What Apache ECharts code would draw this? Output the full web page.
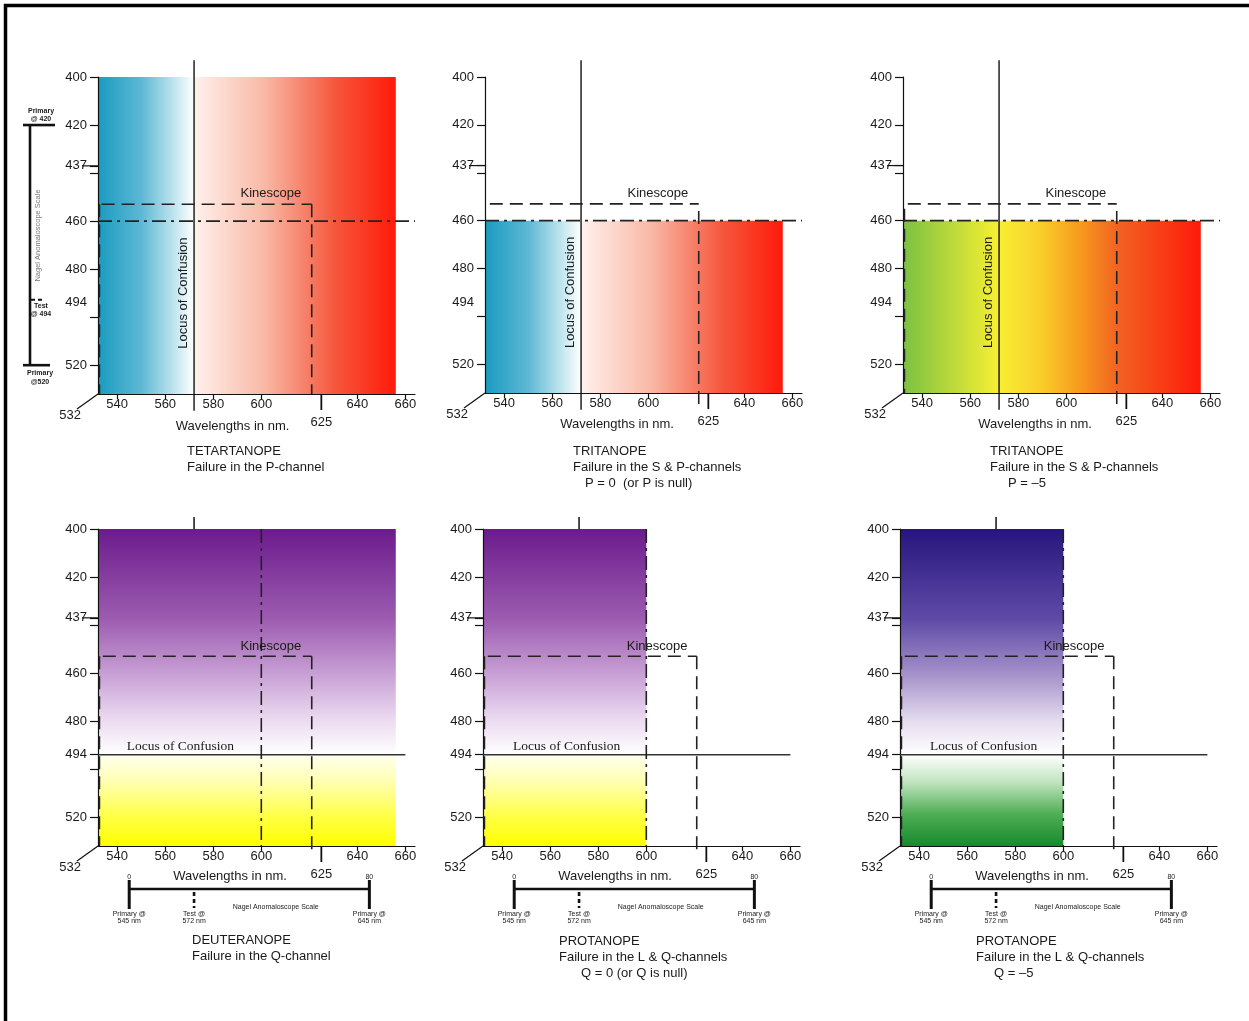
<!DOCTYPE html>
<html>
<head>
<meta charset="utf-8">
<script src="https://cdn.jsdelivr.net/npm/echarts@6/dist/echarts.min.js"></script>
<style>
  html, body { margin: 0; padding: 0; background: #fff; }
  #chart { width: 1249px; height: 1021px; }
</style>
</head>
<body>
<div id="chart"></div>
<script>
// ---- data ----
var panelTitles = ['TETARTANOPE', 'TRITANOPE', 'TRITANOPE', 'DEUTERANOPE', 'PROTANOPE', 'PROTANOPE'];
var panelSubtitles = ['Failure in the P-channel', 'Failure in the S & P-channels', 'Failure in the S & P-channels',
  'Failure in the Q-channel', 'Failure in the L & Q-channels', 'Failure in the L & Q-channels'];
var panelNotes = ['', 'P = 0  (or P is null)', 'P = \u20135', '', 'Q = 0 (or Q is null)', 'Q = \u20135'];

var xMin = 532, xMax = 664;
var yMin = 400, yMax = 532;
var xTickLabels = [540, 560, 580, 600, 640, 660];
var yTickLabels = [400, 420, 437, 460, 480, 494, 520];
var yTicksTop = [400, 420, 437, 440, 460, 480, 500, 520];
var yTicksBottom = [400, 420, 437, 440, 460, 480, 494, 500, 520];
var kinescopeTick = 625;

// Nagel anomaloscope scales
var nagelVertical = [420, 494, 520];          // primary, test, primary (nm)
var nagelHorizontal = [545, 572, 645];        // primary, test, primary (nm)
var nagelUnits = [0, 80];

// colour bands: panel, x0, x1, y0, y1, direction, gradient name
var bands = [
  [0, 532, 572, 400, 532, 'h', 'cyanWhite'],
  [0, 572, 656, 400, 532, 'h', 'whiteRed'],
  [1, 532, 572, 460, 532, 'h', 'cyanWhite'],
  [1, 572, 656, 460, 532, 'h', 'whiteRed'],
  [2, 532, 656, 460, 532, 'h', 'greenRed'],
  [3, 532, 656, 400, 494, 'v', 'purpleWhite'],
  [3, 532, 656, 494, 532, 'v', 'whiteYellow'],
  [4, 532, 600, 400, 494, 'v', 'purpleWhite'],
  [4, 532, 600, 494, 532, 'v', 'whiteYellow'],
  [5, 532, 600, 400, 494, 'v', 'navyWhite'],
  [5, 532, 600, 494, 532, 'v', 'whiteGreen']
];

// line segments: panel, x0, y0, x1, y1, kind
var segments = [
  [0, 572, 393, 572, 539, 'locus'],
  [0, 533.5, 453, 621, 453, 'kinescope'],
  [0, 621, 453, 621, 532, 'kinescope'],
  [0, 532.6, 453, 532.6, 532, 'kinescope'],
  [0, 532, 460, 664, 460, 'reference'],

  [1, 572, 393, 572, 539, 'locus'],
  [1, 534, 453, 621, 453, 'kinescope'],
  [1, 621, 456, 621, 537, 'kinescope'],
  [1, 532, 460, 664, 460, 'reference'],

  [2, 572, 393, 572, 539, 'locus'],
  [2, 534, 453, 621, 453, 'kinescope'],
  [2, 621, 456, 621, 537, 'kinescope'],
  [2, 532.6, 455, 532.6, 532, 'kinescope'],
  [2, 532, 460, 664, 460, 'reference'],

  [3, 532, 494, 660, 494, 'locusH'],
  [3, 600, 400, 600, 532, 'reference'],
  [3, 534, 453, 621, 453, 'kinescope'],
  [3, 621, 453, 621, 534, 'kinescope'],
  [3, 532.6, 453, 532.6, 532, 'kinescope'],
  [3, 572, 395, 572, 400, 'stub'],

  [4, 532, 494, 660, 494, 'locusH'],
  [4, 600, 400, 600, 532, 'reference'],
  [4, 534, 453, 621, 453, 'kinescope'],
  [4, 621, 453, 621, 535, 'kinescope'],
  [4, 532.6, 453, 532.6, 532, 'kinescope'],
  [4, 572, 395, 572, 400, 'stub'],

  [5, 532, 494, 660, 494, 'locusH'],
  [5, 600, 400, 600, 532, 'reference'],
  [5, 534, 453, 621, 453, 'kinescope'],
  [5, 621, 453, 621, 535, 'kinescope'],
  [5, 532.6, 453, 532.6, 532, 'kinescope'],
  [5, 572, 395, 572, 400, 'stub']
];

// text notes in axis units: panel, x, y, text, kind
var notes = [
  [0, 604, 448.5, 'Kinescope', 'plain'],
  [0, 567.5, 490, 'Locus of Confusion', 'vertical'],
  [0, 588, 545.3, 'Wavelengths in nm.', 'plain'],
  [1, 604, 448.5, 'Kinescope', 'plain'],
  [1, 567.5, 490, 'Locus of Confusion', 'vertical'],
  [1, 587, 545.3, 'Wavelengths in nm.', 'plain'],
  [2, 604, 448.5, 'Kinescope', 'plain'],
  [2, 567.5, 490, 'Locus of Confusion', 'vertical'],
  [2, 587, 545.3, 'Wavelengths in nm.', 'plain'],
  [3, 604, 449, 'Kinescope', 'plain'],
  [3, 544, 490.6, 'Locus of Confusion', 'serif'],
  [3, 587, 544.5, 'Wavelengths in nm.', 'plain'],
  [4, 604.5, 449, 'Kinescope', 'plain'],
  [4, 544.5, 490.6, 'Locus of Confusion', 'serif'],
  [4, 587, 544.5, 'Wavelengths in nm.', 'plain'],
  [5, 604.5, 449, 'Kinescope', 'plain'],
  [5, 544.5, 490.6, 'Locus of Confusion', 'serif'],
  [5, 587, 544.5, 'Wavelengths in nm.', 'plain']
];

// ---- styles & layout ----
var FONT = '"Liberation Sans", Arial, Helvetica, sans-serif';
var SERIF = '"Liberation Serif", "Times New Roman", serif';
var INK = '#1a1a1a';

var gradients = {
  cyanWhite: [[0, '#1a9bc1'], [0.45, '#5db8d4'], [0.8, '#c2e6ef'], [1, '#ffffff']],
  whiteRed: [[0, '#fff1ec'], [0.35, '#f9b8a6'], [0.7, '#f5573c'], [1, '#ff1a0a']],
  greenRed: [[0, '#7bc143'], [0.24, '#d8e436'], [0.32, '#f7ef33'], [0.46, '#f9cf2a'],
    [0.6, '#f7981e'], [0.72, '#f26322'], [1, '#ff1a0a']],
  purpleWhite: [[0, '#6b1b8c'], [0.4, '#9d5cb0'], [0.65, '#c9a2d6'], [0.85, '#ecdcf1'], [1, '#ffffff']],
  whiteYellow: [[0, '#fffff0'], [0.3, '#ffffb0'], [0.7, '#ffff40'], [1, '#ffff00']],
  navyWhite: [[0, '#27157e'], [0.4, '#5f4ba6'], [0.65, '#a793cb'], [0.85, '#e5dcef'], [1, '#ffffff']],
  whiteGreen: [[0, '#ffffff'], [0.3, '#c0e4be'], [0.65, '#4fae55'], [1, '#178a2b']]
};

var segmentStyles = {
  locus: { stroke: '#111', lineWidth: 1.4 },
  locusH: { stroke: '#333', lineWidth: 1.3 },
  kinescope: { stroke: '#222', lineWidth: 1.6, lineDash: [13, 7] },
  reference: { stroke: '#222', lineWidth: 1.6, lineDash: [14, 5, 3, 5] },
  stub: { stroke: '#111', lineWidth: 1.5 }
};

var grids = [
  { left: 98, top: 77, width: 317, height: 317 },
  { left: 485, top: 77, width: 317, height: 316 },
  { left: 903, top: 77, width: 317, height: 316 },
  { left: 98, top: 529, width: 317, height: 317 },
  { left: 483, top: 529, width: 317, height: 317 },
  { left: 900, top: 529, width: 317, height: 317 }
];
// title position relative to axis origin, and indent of the third line
var titleAt = [[89, 57], [88, 58], [87, 58], [94, 94], [76, 95], [76, 95]];
var noteIndent = [0, 12, 18, 0, 22, 18];

function seg(x1, y1, x2, y2, style) {
  return { type: 'line', shape: { x1: x1, y1: y1, x2: x2, y2: y2 }, style: style };
}
function txt(x, y, s, size, align, extra) {
  var style = { text: s, fill: INK, fontSize: size, fontFamily: FONT, align: align || 'center', verticalAlign: 'middle' };
  if (extra) for (var k in extra) style[k] = extra[k];
  return { type: 'text', x: x, y: y, style: style };
}

function bandSeries(p) {
  var items = bands.filter(function (b) { return b[0] === p; });
  return {
    type: 'custom', xAxisIndex: p, yAxisIndex: p, silent: true, clip: false, z: 1,
    data: items.map(function (b) { return [b[1], b[3]]; }),
    renderItem: function (params, api) {
      var b = items[params.dataIndex];
      var a = api.coord([b[1], b[3]]);
      var c = api.coord([b[2], b[4]]);
      var h = b[5] === 'h';
      return {
        type: 'rect',
        shape: { x: a[0], y: a[1], width: c[0] - a[0], height: c[1] - a[1] },
        style: {
          fill: new echarts.graphic.LinearGradient(0, 0, h ? 1 : 0, h ? 0 : 1,
            gradients[b[6]].map(function (s) { return { offset: s[0], color: s[1] }; }))
        }
      };
    }
  };
}

function segmentSeries(p) {
  var items = segments.filter(function (s) { return s[0] === p; });
  return {
    type: 'custom', xAxisIndex: p, yAxisIndex: p, silent: true, clip: false, z: 4,
    data: items.map(function (s) { return [s[1], s[2]]; }),
    renderItem: function (params, api) {
      var s = items[params.dataIndex];
      var a = api.coord([s[1], s[2]]);
      var c = api.coord([s[3], s[4]]);
      return seg(a[0], a[1], c[0], c[1], segmentStyles[s[5]]);
    }
  };
}

function noteSeries(p) {
  var items = notes.filter(function (n) { return n[0] === p; });
  return {
    type: 'custom', xAxisIndex: p, yAxisIndex: p, silent: true, clip: false, z: 5,
    data: items.map(function (n) { return [n[1], n[2]]; }),
    renderItem: function (params, api) {
      var n = items[params.dataIndex];
      var pt = api.coord([n[1], n[2]]);
      if (n[4] === 'vertical') {
        var t = txt(pt[0], pt[1], n[3], 13, 'center');
        t.rotation = Math.PI / 2;
        return t;
      }
      if (n[4] === 'serif') {
        return txt(pt[0], pt[1], n[3], 13.5, 'left', { fontFamily: SERIF });
      }
      return txt(pt[0], pt[1], n[3], 13, 'center');
    }
  };
}

function extrasSeries(p) {
  return {
    type: 'custom', xAxisIndex: p, yAxisIndex: p, silent: true, clip: false, z: 5,
    data: [[xMin, yMax]],
    renderItem: function (params, api) {
      var o = api.coord([xMin, yMax]);
      var kids = [];
      var thin = { stroke: '#111', lineWidth: 1.2 };
      // perspective corner and its label
      kids.push(seg(o[0], o[1], o[0] - 21, o[1] + 15, thin));
      kids.push(txt(o[0] - 17, o[1] + 21, String(xMin), 13, 'right'));
      // long tick for 625
      var k = api.coord([kinescopeTick, yMax]);
      kids.push(seg(k[0], k[1], k[0], k[1] + 16, { stroke: '#111', lineWidth: 1.8 }));
      kids.push(txt(k[0], k[1] + 28, String(kinescopeTick), 13, 'center'));
      // long tick for 437
      var t437 = api.coord([xMin, 437])[1];
      kids.push(seg(o[0] - 16, t437, o[0], t437, thin));
      // titles
      var tx = o[0] + titleAt[p][0], ty = o[1] + titleAt[p][1];
      kids.push(txt(tx, ty, panelTitles[p], 13, 'left'));
      kids.push(txt(tx, ty + 16, panelSubtitles[p], 13, 'left'));
      if (panelNotes[p]) kids.push(txt(tx + noteIndent[p], ty + 32.5, panelNotes[p], 13, 'left'));

      var bold = { stroke: '#111', lineWidth: 2.6 };
      var small = { fontWeight: 'bold' };
      if (p === 0) {
        var yy = function (v) { return api.coord([xMin, v])[1]; };
        var lx = o[0] - 68;
        kids.push(seg(lx, yy(nagelVertical[0]), lx, yy(nagelVertical[2]), bold));
        kids.push(seg(o[0] - 75, yy(nagelVertical[0]), o[0] - 43, yy(nagelVertical[0]), bold));
        kids.push(seg(o[0] - 75, yy(nagelVertical[2]), o[0] - 48, yy(nagelVertical[2]), bold));
        kids.push(seg(lx + 1, yy(nagelVertical[1]) - 3, o[0] - 53, yy(nagelVertical[1]) - 3,
          { stroke: '#111', lineWidth: 2, lineDash: [4, 3] }));
        kids.push(txt(o[0] - 57, yy(nagelVertical[0]) - 14, 'Primary', 7, 'center', small));
        kids.push(txt(o[0] - 57, yy(nagelVertical[0]) - 6, '@ ' + nagelVertical[0], 7, 'center', small));
        kids.push(txt(o[0] - 57, yy(nagelVertical[1]) + 3, 'Test', 7, 'center', small));
        kids.push(txt(o[0] - 57, yy(nagelVertical[1]) + 11, '@ ' + nagelVertical[1], 7, 'center', small));
        kids.push(txt(o[0] - 58, yy(nagelVertical[2]) + 8, 'Primary', 7, 'center', small));
        kids.push(txt(o[0] - 58, yy(nagelVertical[2]) + 17, '@' + nagelVertical[2], 7, 'center', small));
        var nv = txt(o[0] - 60, yy(466), 'Nagel Anomaloscope Scale', 7.5, 'center', { fill: '#777' });
        nv.rotation = Math.PI / 2;
        kids.push(nv);
      }
      if (p >= 3) {
        var xx = function (v) { return api.coord([v, yMax])[0]; };
        var by = o[1] + 43;
        kids.push(seg(xx(nagelHorizontal[0]), by, xx(nagelHorizontal[2]), by, bold));
        kids.push(seg(xx(nagelHorizontal[0]), o[1] + 34, xx(nagelHorizontal[0]), o[1] + 63, { stroke: '#111', lineWidth: 3 }));
        kids.push(seg(xx(nagelHorizontal[2]), o[1] + 34, xx(nagelHorizontal[2]), o[1] + 63, { stroke: '#111', lineWidth: 3 }));
        kids.push(seg(xx(nagelHorizontal[1]), o[1] + 46, xx(nagelHorizontal[1]), o[1] + 62,
          { stroke: '#111', lineWidth: 2.6, lineDash: [4, 3] }));
        kids.push(txt(xx(nagelHorizontal[0]), o[1] + 31, String(nagelUnits[0]), 7, 'center'));
        kids.push(txt(xx(nagelHorizontal[2]), o[1] + 31, String(nagelUnits[1]), 7, 'center'));
        kids.push(txt(xx(nagelHorizontal[0]), o[1] + 68, 'Primary @', 7, 'center'));
        kids.push(txt(xx(nagelHorizontal[0]), o[1] + 75, nagelHorizontal[0] + ' nm', 7, 'center'));
        kids.push(txt(xx(nagelHorizontal[1]), o[1] + 68, 'Test @', 7, 'center'));
        kids.push(txt(xx(nagelHorizontal[1]), o[1] + 75, nagelHorizontal[1] + ' nm', 7, 'center'));
        kids.push(txt(xx(nagelHorizontal[2]), o[1] + 68, 'Primary @', 7, 'center'));
        kids.push(txt(xx(nagelHorizontal[2]), o[1] + 75, nagelHorizontal[2] + ' nm', 7, 'center'));
        kids.push(txt(xx(606), o[1] + 61, 'Nagel Anomaloscope Scale', 7, 'center'));
      }
      return { type: 'group', children: kids };
    }
  };
}

var chart = echarts.init(document.getElementById('chart'), null, { renderer: 'canvas' });

var axisLine = { show: true, lineStyle: { color: '#111', width: 1.2 } };
var series = [];
for (var p = 0; p < grids.length; p++) {
  series.push(bandSeries(p), segmentSeries(p), noteSeries(p), extrasSeries(p));
}

var option = {
  animation: false,
  backgroundColor: '#fff',
  textStyle: { fontFamily: FONT },
  grid: grids.map(function (g) {
    return { left: g.left, top: g.top, width: g.width, height: g.height, containLabel: false, outerBoundsMode: 'none' };
  }),
  xAxis: grids.map(function (g, i) {
    return {
      type: 'value', gridIndex: i, min: xMin, max: xMax, z: 3,
      axisLine: axisLine,
      axisTick: { show: true, customValues: xTickLabels, length: 5, lineStyle: { color: '#111', width: 1.2 } },
      axisLabel: { customValues: xTickLabels, margin: 4, color: INK, fontSize: 13, fontFamily: FONT },
      splitLine: { show: false }
    };
  }),
  yAxis: grids.map(function (g, i) {
    return {
      type: 'value', gridIndex: i, min: yMin, max: yMax, inverse: true, z: 3,
      axisLine: axisLine,
      axisTick: { show: true, customValues: i < 3 ? yTicksTop : yTicksBottom, length: 8, lineStyle: { color: '#111', width: 1.2 } },
      axisLabel: { customValues: yTickLabels, margin: 11, color: INK, fontSize: 13, fontFamily: FONT },
      splitLine: { show: false }
    };
  }),
  graphic: [{
    type: 'polyline', silent: true,
    shape: { points: [[5.5, 1021], [5.5, 5.5], [1249, 5.5]] },
    style: { stroke: '#000', lineWidth: 3.5, fill: null }
  }],
  series: series
};

chart.setOption(option);
</script>
</body>
</html>
